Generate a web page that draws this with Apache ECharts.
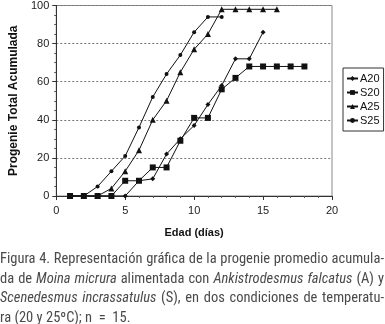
<!DOCTYPE html>
<html>
<head>
<meta charset="utf-8">
<script src="https://cdn.jsdelivr.net/npm/echarts@6/dist/echarts.min.js"></script>
<style>
  body { margin: 0; background: #fff; }
  #wrap { position: relative; width: 385px; height: 324px; overflow: hidden; }
  #grafico { position: absolute; left: 0; top: 0; width: 385px; height: 324px; }
  #pie {
    position: absolute; left: 0; top: 249px; width: 384px;
    font-family: "Liberation Sans Narrow", "Roboto Condensed", "Liberation Sans", sans-serif;
    font-size: 14.5px; line-height: 19.5px; color: #4a4a4a;
  }
  #pie .j { text-align: justify; text-align-last: justify; white-space: nowrap; }
</style>
</head>
<body>
<div id="wrap">
  <div id="grafico"></div>
  <div id="pie">
    <div class="j">Figura 4. Representación gráfica de la progenie promedio acumula-</div>
    <div class="j">da de <i>Moina micrura</i> alimentada con <i>Ankistrodesmus falcatus</i> (A) y</div>
    <div class="j"><i>Scenedesmus incrassatulus</i> (S), en dos condiciones de temperatu-</div>
    <div>ra (20 y 25ºC); n &nbsp;= &nbsp;15.</div>
  </div>
</div>
<script>
// dias y progenie acumulada
const dias = [1, 2, 3, 4, 5, 6, 7, 8, 9, 10, 11, 12, 13, 14, 15, 16, 17, 18]
const A20 = [0, 0, 0, 0, 0, 8, 9, 22, 30, 37, 48, 58, 72, 72, 86]
const S20 = [0, 0, 0, 0, 8, 8, 15, 15, 29, 41, 41, 56, 62, 68, 68, 68, 68, 68]
const A25 = [0, 0, 0, 4, 13, 24, 40, 50, 65, 77, 85, 98, 98, 98, 98, 98]
const S25 = [0, 0, 5, 13, 21, 36, 52, 64, 74, 86, 94, 94]

const pares = (vals) => vals.map((v, i) => [dias[i], v])

const chart = echarts.init(document.getElementById('grafico'))

const serie = (name, vals, symbol, size) => ({
  name: name,
  type: 'line',
  data: pares(vals),
  symbol: symbol,
  symbolSize: size,
  showAllSymbol: true,
  animation: false,
  lineStyle: { color: '#111', width: 1 },
  itemStyle: { color: '#111' }
})

let option = {
  textStyle: { fontFamily: 'Liberation Sans, Arial, sans-serif' },
  grid: {
    left: 43,
    right: 53,
    top: 4,
    bottom: 128,
    show: true,
    borderColor: '#888',
    borderWidth: 1
  },
  legend: {
    orient: 'vertical',
    left: 343,
    top: 68,
    padding: [5, 4, 5, 3],
    itemGap: 3,
    itemWidth: 11,
    itemHeight: 6,
    borderColor: '#333',
    borderWidth: 1,
    textStyle: { fontSize: 11, color: '#111', padding: [0, 0, 0, -3] },
    data: ['A20', 'S20', 'A25', 'S25']
  },
  xAxis: {
    type: 'value',
    min: 0,
    max: 20,
    interval: 5,
    name: 'Edad (días)',
    nameLocation: 'middle',
    nameGap: 31,
    nameTextStyle: { fontWeight: 'bold', fontSize: 11, color: '#111' },
    axisLine: { onZero: false, lineStyle: { color: '#333' } },
    axisTick: { show: true, length: 4, lineStyle: { color: '#333' } },
    minorTick: { show: true, splitNumber: 5, length: 2, lineStyle: { color: '#555' } },
    axisLabel: { fontSize: 11, color: '#222', margin: 9 },
    splitLine: { show: false }
  },
  yAxis: {
    type: 'value',
    min: 0,
    max: 100,
    interval: 20,
    name: 'Progenie Total Acumulada',
    nameLocation: 'middle',
    nameGap: 28,
    nameTextStyle: { fontWeight: 'bold', fontSize: 12, color: '#111' },
    axisLine: { show: true, lineStyle: { color: '#333' } },
    axisTick: { show: true, length: 4, lineStyle: { color: '#333' } },
    minorTick: { show: true, splitNumber: 4, length: 2, lineStyle: { color: '#555' } },
    axisLabel: { fontSize: 11, color: '#222', margin: 7 },
    splitLine: { show: true, lineStyle: { color: '#777', type: [2, 2], width: 1 } }
  },
  series: [
    serie('A20', A20, 'diamond', 5),
    serie('S20', S20, 'rect', 6),
    serie('A25', A25, 'triangle', 6),
    serie('S25', S25, 'circle', 4)
  ]
}

chart.setOption(option)
</script>
</body>
</html>
